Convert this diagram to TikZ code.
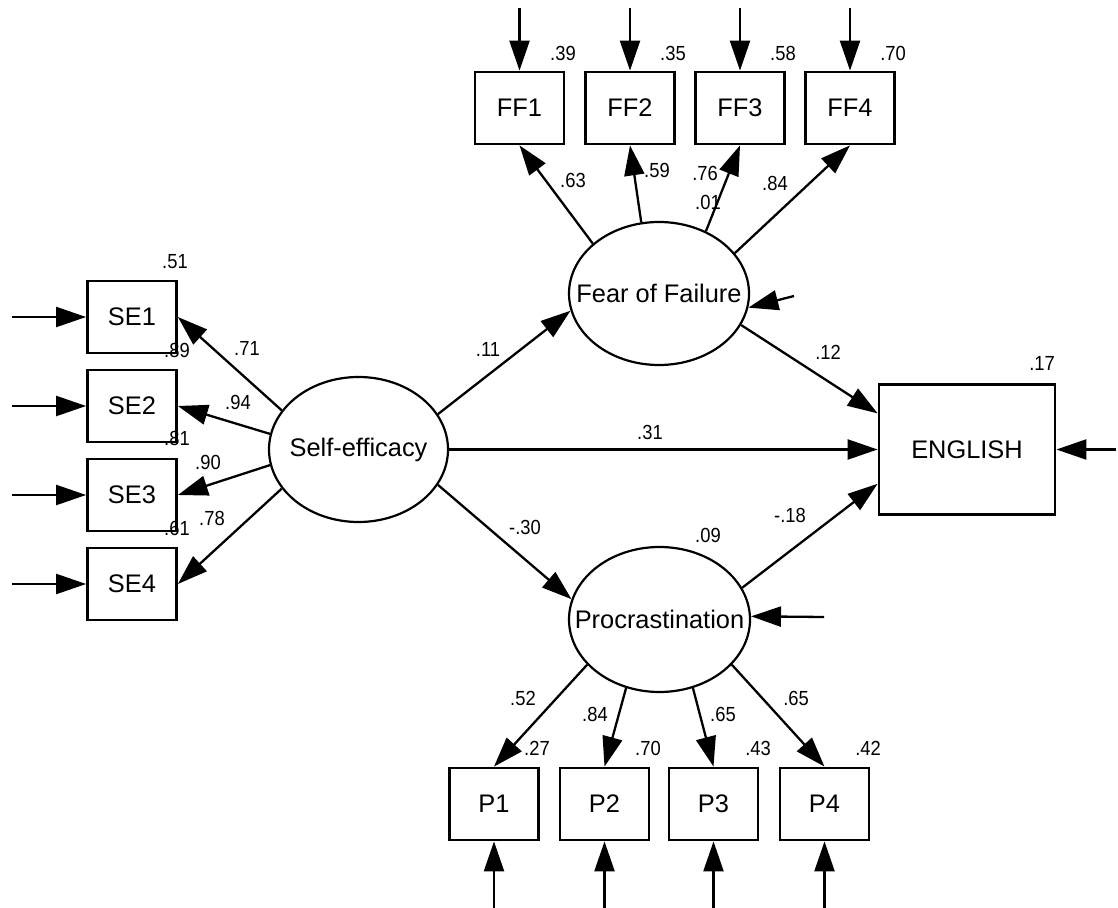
\documentclass[tikz,border=0pt]{standalone}
\usepackage{fontspec}
\setmainfont{Liberation Sans}
\newfontfamily\coeffont[FakeStretch=0.9]{Liberation Sans}
\usetikzlibrary{arrows.meta,shapes.geometric}
\begin{document}
\begin{tikzpicture}[x=0.5pt,y=-0.5pt,
  obs/.style={draw, rectangle, line width=1.4pt, inner sep=0pt,
              minimum width=44.5pt, minimum height=36pt,
              font=\fontsize{12.7}{15}\selectfont},
  lat/.style={draw, ellipse, line width=1.1pt, inner sep=0pt,
              font=\fontsize{12.7}{15}\selectfont},
  path/.style={line width=1.15pt, -{Triangle[length=15pt,width=10pt]}},
  coef/.style={inner sep=0pt, font=\coeffont\fontsize{10.2}{12}\selectfont}]
\useasboundingbox (0,0) rectangle (1118,908);

% latent variables (labels in zero-width boxes so the ellipse size is set by the minimum dimensions)
\node[lat, minimum width=89.5pt, minimum height=72.5pt] (se)  at (358.5,449.5) {\makebox[0pt]{Self-efficacy}};
\node[lat, minimum width=90pt,   minimum height=71.5pt] (fof) at (659,293.5)   {\makebox[0pt]{Fear of Failure}};
\node[lat, minimum width=90.5pt, minimum height=72.5pt] (pro) at (659.5,619.5) {\makebox[0pt]{Procrastination}};

% outcome
\node[obs, minimum width=88pt, minimum height=65pt] (eng) at (967,449.5) {ENGLISH};

% indicators
\node[obs] (FF1) at (519.5,108) {FF1};
\node[obs] (FF2) at (630,108)   {FF2};
\node[obs] (FF3) at (740,108)   {FF3};
\node[obs] (FF4) at (850,108)   {FF4};

\node[obs] (SE1) at (132,317) {SE1};
\node[obs] (SE2) at (132,406) {SE2};
\node[obs] (SE3) at (132,495) {SE3};
\node[obs] (SE4) at (132,584) {SE4};

\node[obs] (P1) at (494,804)   {P1};
\node[obs] (P2) at (604.5,804) {P2};
\node[obs] (P3) at (713.5,804) {P3};
\node[obs] (P4) at (824.5,804) {P4};

% error terms
\coordinate (eFF1) at (519.5,8);
\coordinate (eFF2) at (630,8);
\coordinate (eFF3) at (740,8);
\coordinate (eFF4) at (850,8);
\coordinate (eSE1) at (12,317);
\coordinate (eSE2) at (12,406);
\coordinate (eSE3) at (12,495);
\coordinate (eSE4) at (12,584);
\coordinate (eP1) at (494,908);
\coordinate (eP2) at (604.5,908);
\coordinate (eP3) at (713.5,908);
\coordinate (eP4) at (824.5,908);
\coordinate (eEng) at (1116,449.5);
\coordinate (dFof) at (794,296);
\coordinate (dPro) at (824,617);

\foreach \n in {FF1,FF2,FF3,FF4} \draw[path] (e\n) -- (\n.north);
\foreach \n in {SE1,SE2,SE3,SE4} \draw[path] (e\n) -- (\n.west);
\foreach \n in {P1,P2,P3,P4} \draw[path] (e\n) -- (\n.south);
\draw[path] (eEng) -- (eng.east);
\draw[path] (dFof) -- (fof.-9);
\draw[path] (dPro) -- (pro.2);

% measurement paths
\draw[path] (se.153) -- (SE1.east);
\draw[path] (se.170) -- (SE2.east);
\draw[path] (se.190) -- (SE3.east);
\draw[path] (se.207) -- (SE4.east);

\draw[path] (fof.143) -- (FF1.south);
\draw[path] (fof.104) -- (FF2.south);
\draw[path] (fof.53)  -- (FF3.south);
\draw[path] (fof.28)  -- (FF4.south);

\draw[path] (pro.212) -- (P1.north);
\draw[path] (pro.244) -- (P2.north);
\draw[path] (pro.296) -- (P3.north);
\draw[path] (pro.328) -- (P4.north);

% structural paths
\draw[path] (se.24)  -- (fof.191);
\draw[path] (se.east) -- (eng.west);
\draw[path] (se.-24) -- (pro.167);
\draw[path] (fof.-21) -- (eng.158);
\draw[path] (pro.21) -- (eng.201);

% squared multiple correlations
\node[coef] (rFF1) at (563,53) {.39};
\node[coef] (rFF2) at (673,53) {.35};
\node[coef] (rFF3) at (783,53) {.58};
\node[coef] (rFF4) at (893,53) {.70};
\node[coef] (rSE1) at (175,262) {.51};
\node[coef] (rSE2) at (177,350) {.89};
\node[coef] (rSE3) at (177,438) {.81};
\node[coef] (rSE4) at (177,528) {.61};
\node[coef] (rP1) at (537,748) {.27};
\node[coef] (rP2) at (648,748) {.70};
\node[coef] (rP3) at (758,748) {.43};
\node[coef] (rP4) at (868,748) {.42};
\node[coef] (rFof) at (708,202) {.01};
\node[coef] (rPro) at (708,535) {.09};
\node[coef] (rEng) at (1042,363) {.17};

% standardized loadings and path coefficients
\node[coef] (lFF1) at (573,180) {.63};
\node[coef] (lFF2) at (657,170) {.59};
\node[coef] (lFF3) at (705,173) {.76};
\node[coef] (lFF4) at (775,183) {.84};
\node[coef] (lSE1) at (247,348) {.71};
\node[coef] (lSE2) at (238,402) {.94};
\node[coef] (lSE3) at (208,462) {.90};
\node[coef] (lSE4) at (212,518) {.78};
\node[coef] (lP1) at (523,698) {.52};
\node[coef] (lP2) at (595,714) {.84};
\node[coef] (lP3) at (723,714) {.65};
\node[coef] (lP4) at (796,698) {.65};
\node[coef] (bSeFof) at (488,349) {.11};
\node[coef] (bSeEng) at (650,432) {.31};
\node[coef] (bSePro) at (525,527) {-.30};
\node[coef] (bFofEng) at (828,352) {.12};
\node[coef] (bProEng) at (790,515) {-.18};
\end{tikzpicture}
\end{document}
